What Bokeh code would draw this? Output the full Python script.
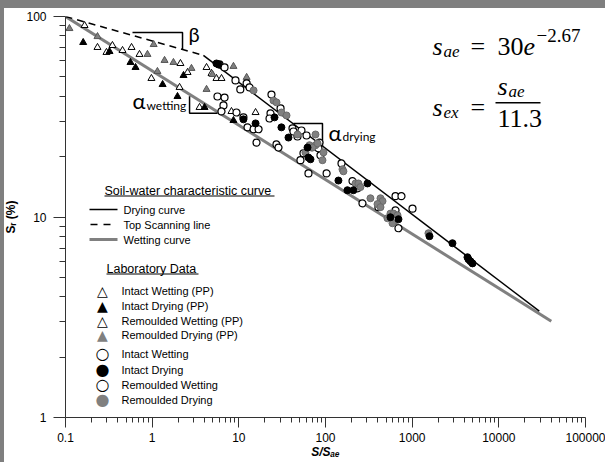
import numpy as np
from bokeh.plotting import figure
from bokeh.models import Label, BoxAnnotation, FixedTicker, InlineStyleSheet
from bokeh.embed import file_html
from bokeh.resources import INLINE

# ---------------- data ----------------
x_ticks = [0.1, 1, 10, 100, 1000, 10000, 100000]
x_tick_labels = ["0.1", "1", "10", "100", "1000", "10000", "100000"]
y_ticks = [1, 10, 100]
y_tick_labels = ["1", "10", "100"]

# curves
drying_x = [3.9, 29300]
drying_y = [64, 3.39]
scan_x = [0.1, 3.9]
scan_y = [100, 64]
wet_x = [0.1, 40300]
wet_y = [100, 3.02]

# slope triangles
beta_x = [0.593, 2.24, 2.24]
beta_y = [83.2, 83.2, 68.4]
aw_x = [2.70, 2.70, 5.67]
aw_y = [40.0, 32.9, 32.9]
ad_x = [42.7, 92.3, 92.3]
ad_y = [29.3, 29.3, 22.6]

# laboratory data (PP = pressure plate, triangles)
iw_pp_x = [0.166, 0.234, 0.297, 0.348, 0.455, 0.578, 0.714, 2.12, 0.98]
iw_pp_y = [90.2, 70.1, 66.2, 71.7, 67.7, 70.1, 64.7, 58.3, 49.1]
rw_pp_x = [2.07, 2.56, 4.24, 4.84, 5.52, 6.31, 3.52, 8.22, 15.6]
rw_pp_y = [44.3, 52.6, 55.7, 52.0, 49.1, 49.1, 35.2, 33.6, 33.2]
id_pp_x = [0.16, 0.322, 0.562, 0.643, 1.32, 2.30, 1.96, 4.02, 8.67]
id_pp_y = [74.2, 66.9, 59.0, 55.7, 45.8, 50.8, 39.9, 35.2, 30.3]
rd_pp_x = [0.111, 0.234, 0.883, 1.04, 1.15, 1.39, 1.76, 2.84, 4.97, 8.67, 12.3, 4.24]
rd_pp_y = [87.1, 79.4, 64.7, 72.5, 53.2, 60.4, 59.0, 55.1, 51.4, 56.4, 49.7, 43.3]

# circles
iw_x = [5.98, 6.84, 9.15, 12.3, 13.3, 10.4, 5.67, 6.84, 6.65, 6.31, 9.4, 11.3,
        12.6, 14.8, 16.9, 16.0, 23.8, 23.2, 22.6, 30.3, 27.2, 28.7]
iw_y = [57.7, 55.7, 48.0, 46.4, 44.3, 43.3, 39.9, 39.4, 36.0, 33.6, 33.2, 31.4,
        28.0, 27.4, 27.4, 23.5, 40.8, 32.9, 31.0, 34.8, 23.0, 22.2]
rw_x = [41.6, 52.8, 47.5, 60.4, 85.3, 83, 55.7, 51.4, 87.5, 63.6, 103, 153,
        205, 234, 267, 643, 643, 753, 1009, 695, 408, 42.7]
rw_y = [27.7, 27.0, 25.2, 25.5, 23.5, 22.0, 20.8, 19.2, 20.3, 16.5, 16.5, 18.5,
        15.1, 13.9, 11.7, 10.8, 12.7, 12.7, 11.0, 8.79, 11.2, 26.7]
id_x = [5.52, 5.82, 15.6, 11.3, 25.8, 31.0, 37.4, 62, 63.6, 67.1, 141, 179,
        210, 305, 695, 562, 1585, 2917, 4347, 4467, 4710, 4966]
id_y = [58.3, 57.7, 29.3, 30.7, 31.4, 28.0, 24.9, 22.2, 19.8, 19.4, 15.2, 13.6,
        13.6, 14.7, 9.75, 9.97, 8.02, 7.4, 6.3, 6.15, 6.01, 5.87]
rd_x = [14.8, 25.1, 27.2, 31.0, 35.5, 68.9, 76.7, 47.5, 76.7, 65.3, 70.8, 58.7,
        94.8, 92.3, 80.9, 157, 161, 222, 240, 253, 330, 431, 455, 398, 431,
        562, 609, 678, 519, 593, 1542]
rd_y = [42.8, 38.1, 37.3, 33.2, 32.1, 22.2, 22.8, 25.8, 25.8, 22.8, 22.2, 21.0,
        21.0, 19.2, 23.3, 17.3, 16.9, 14.7, 14.7, 14.1, 12.4, 12.4, 12.0, 11.6, 11.2,
        10.4, 10.4, 10.2, 9.86, 9.31, 8.3]

legend_curves = ["Drying curve", "Top Scanning line", "Wetting curve"]
legend_lab = ["Intact Wetting (PP)", "Intact Drying (PP)", "Remoulded Wetting (PP)",
              "Remoulded Drying (PP)", "Intact Wetting", "Intact Drying",
              "Remoulded Wetting", "Remoulded Drying"]

GRAY = "#808080"
AX = "#333333"
SANS = "Liberation Sans"
SERIF = "Liberation Serif"

# ---------------- figure ----------------
p = figure(width=605, height=462, x_axis_type="log", y_axis_type="log",
           x_range=(0.1, 100000), y_range=(1, 100),
           output_backend="svg", toolbar_location=None,
           min_border_left=65, min_border_right=20, min_border_top=16, min_border_bottom=45,
           background_fill_color="white", border_fill_color="white",
           outline_line_color=None)
p.grid.visible = False

# gray page frame strips (left and top), drawn over the canvas edge
p.stylesheets = [InlineStyleSheet(css="""
:host::before { content: ""; position: absolute; left: 0; top: 0; width: 100%; height: 8px;
                background: #7f7f7f; z-index: 100; pointer-events: none; }
:host::after  { content: ""; position: absolute; left: 0; top: 0; width: 4px; height: 100%;
                background: #7f7f7f; z-index: 100; pointer-events: none; }
""")]

minor_x = [m * 10.0 ** k for k in range(-1, 5) for m in range(2, 10)]
minor_y = [m * 10.0 ** k for k in range(0, 2) for m in range(2, 10)]
p.xaxis.ticker = FixedTicker(ticks=x_ticks, minor_ticks=minor_x)
p.yaxis.ticker = FixedTicker(ticks=y_ticks, minor_ticks=minor_y)
p.xaxis.major_label_overrides = {t: l for t, l in zip(x_ticks, x_tick_labels)}
p.yaxis.major_label_overrides = {t: l for t, l in zip(y_ticks, y_tick_labels)}

for ax in (p.xaxis[0], p.yaxis[0]):
    ax.axis_line_color = AX
    ax.major_tick_line_color = AX
    ax.minor_tick_line_color = AX
    ax.major_tick_in = 0
    ax.minor_tick_in = 0
    ax.major_label_text_font = SANS
    ax.major_label_text_font_size = "12px"
    ax.major_label_text_color = "black"
    ax.axis_label_text_font = SANS
    ax.axis_label_text_font_size = "12px"
    ax.axis_label_text_font_style = "bold"
    ax.axis_label_text_color = "black"

p.xaxis.major_tick_out = 10
p.xaxis.minor_tick_out = 5
p.xaxis.major_label_standoff = 5
p.xaxis.axis_label = "S/Sₐₑ"
p.xaxis.axis_label_text_font_style = "bold italic"
p.xaxis.axis_label_standoff = 0

p.yaxis.major_tick_out = 12
p.yaxis.minor_tick_out = 6
p.yaxis.major_label_standoff = 7
p.yaxis.axis_label = "Sᵣ (%)"
p.yaxis.axis_label_standoff = 5

# curves
p.line(wet_x, wet_y, line_color=GRAY, line_width=3)
p.line(drying_x, drying_y, line_color="black", line_width=1.5)
p.line(scan_x, scan_y, line_color="black", line_width=1.5, line_dash="7 5")

# slope triangles
for bx, by in ((beta_x, beta_y), (aw_x, aw_y), (ad_x, ad_y)):
    p.line(bx, by, line_color="black", line_width=1.5)

# points
TS = 7
CS = 7
p.scatter(iw_pp_x, iw_pp_y, marker="triangle", size=TS, fill_color="white", line_color="black", line_width=1)
p.scatter(rw_pp_x, rw_pp_y, marker="triangle", size=TS, fill_color="white", line_color="black", line_width=1)
p.scatter(rd_pp_x, rd_pp_y, marker="triangle", size=TS, fill_color=GRAY, line_color="#555555", line_width=1)
p.scatter(id_pp_x, id_pp_y, marker="triangle", size=TS, fill_color="black", line_color="black", line_width=1)
p.scatter(iw_x, iw_y, marker="circle", size=CS, fill_color="white", line_color="black", line_width=1.2)
p.scatter(rw_x, rw_y, marker="circle", size=CS, fill_color="white", line_color="black", line_width=1.2)
p.scatter(rd_x, rd_y, marker="circle", size=CS, fill_color=GRAY, line_color="#6a6a6a", line_width=1)
p.scatter(id_x, id_y, marker="circle", size=CS, fill_color="black", line_color="black", line_width=1)


def lab(x, y, t, size, font=SANS, style="normal", align="left", baseline="alphabetic",
        color="black"):
    p.add_layout(Label(x=x, y=y, x_units="screen", y_units="screen", text=t,
                       text_font=font, text_font_size=f"{size}px", text_font_style=style,
                       text_align=align, text_baseline=baseline, text_color=color))


def box(l, r, b, t, color="black"):
    p.add_layout(BoxAnnotation(left=l, right=r, bottom=b, top=t,
                               left_units="screen", right_units="screen",
                               bottom_units="screen", top_units="screen",
                               fill_color=color, fill_alpha=1, line_alpha=0))


# slope labels
lab(123, 384, "β", 20, font="Lato")
lab(67, 317, "α", 22, font="Lato")
lab(81, 312, "wetting", 12, font="Lato")
lab(263, 285, "α", 22, font="Lato")
lab(277, 281, "drying", 12, font="Lato")

# formulas
lab(367, 371, "s", 26, font=SERIF, style="italic")
lab(378, 366, "ae", 17, font=SERIF, style="italic")
lab(405, 371, "=", 26, font=SERIF)
lab(432, 371, "30", 26, font=SERIF)
lab(458, 371, "e", 26, font=SERIF, style="italic")
lab(471, 382, "−2.67", 19, font=SERIF)

lab(367, 310, "s", 26, font=SERIF, style="italic")
lab(378, 305, "ex", 17, font=SERIF, style="italic")
lab(405, 310, "=", 26, font=SERIF)
lab(432, 331, "s", 26, font=SERIF, style="italic")
lab(443, 326, "ae", 17, font=SERIF, style="italic")
box(430, 475, 314, 315.5)
lab(432, 299, "11.3", 26, font=SERIF)

# legend: curves
lab(39, 227, "Soil-water characteristic curve", 12.5, baseline="middle")
box(39, 209, 221, 222)
curve_y = [208, 193, 178]
for t, yy in zip(legend_curves, curve_y):
    lab(58, yy, t, 11, baseline="middle")
box(24, 52, 207.25, 208.75)
box(25, 32, 192.25, 193.75)
box(38, 45, 192.25, 193.75)
box(24, 52, 176.5, 179.5, color=GRAY)

# legend: lab data
lab(41, 149, "Laboratory Data", 12.5, baseline="middle")
box(41, 133, 143, 144)
row_y = [127, 112, 97, 83, 64, 48, 33, 18]
symbols = ["△", "▲", "△", "▲", "○", "●", "○", "●"]
sym_col = ["black", "black", "black", GRAY, "black", "black", "black", GRAY]
sym_size = [14, 14, 14, 14, 16, 16, 16, 16]
for t, yy, s, c, ss in zip(legend_lab, row_y, symbols, sym_col, sym_size):
    lab(37, yy, s, ss, font="DejaVu Sans", align="center", baseline="middle", color=c)
    lab(56, yy, t, 11, baseline="middle")

open("out.html", "w").write(file_html(p, INLINE))
